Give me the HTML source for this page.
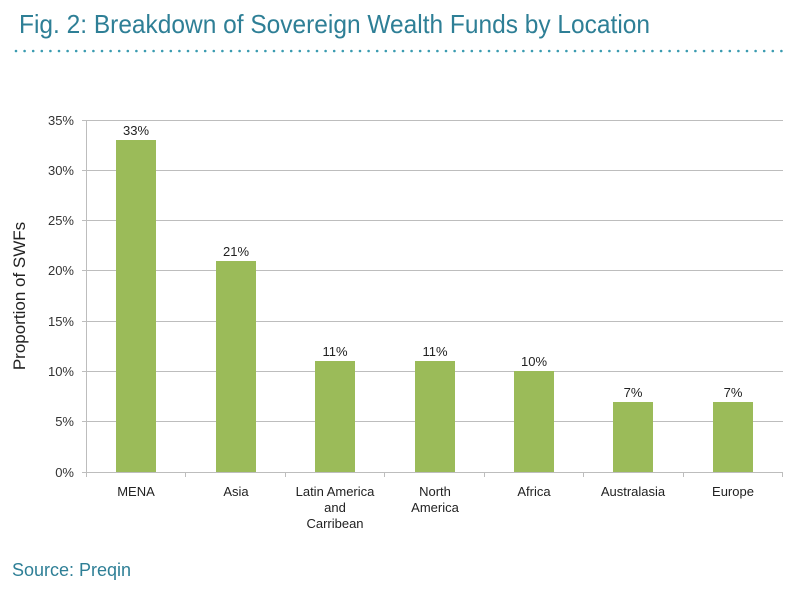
<!DOCTYPE html>
<html><head><style>
body{margin:0;width:800px;height:586px;background:#fff;overflow:hidden;font-family:"Liberation Sans",sans-serif}
</style></head><body>
<svg width="800" height="586" xmlns="http://www.w3.org/2000/svg" font-family="Liberation Sans, sans-serif">
<text x="19" y="33" font-size="26" fill="#2e7f96" textLength="631" lengthAdjust="spacingAndGlyphs">Fig. 2: Breakdown of Sovereign Wealth Funds by Location</text>
<line x1="16" y1="51" x2="785" y2="51" stroke="#3a9bb0" stroke-width="2.6" stroke-linecap="round" stroke-dasharray="0 8.6"/>
<g stroke="#bdbdbd" stroke-width="1">
<line x1="86" y1="120.5" x2="783" y2="120.5"/>
<line x1="86" y1="170.5" x2="783" y2="170.5"/>
<line x1="86" y1="220.5" x2="783" y2="220.5"/>
<line x1="86" y1="270.5" x2="783" y2="270.5"/>
<line x1="86" y1="321.5" x2="783" y2="321.5"/>
<line x1="86" y1="371.5" x2="783" y2="371.5"/>
<line x1="86" y1="421.5" x2="783" y2="421.5"/>
<line x1="86" y1="472.5" x2="783" y2="472.5"/>
<line x1="86.5" y1="120" x2="86.5" y2="472"/>
<line x1="82" y1="120.5" x2="86" y2="120.5"/><line x1="82" y1="170.5" x2="86" y2="170.5"/><line x1="82" y1="220.5" x2="86" y2="220.5"/><line x1="82" y1="270.5" x2="86" y2="270.5"/><line x1="82" y1="321.5" x2="86" y2="321.5"/><line x1="82" y1="371.5" x2="86" y2="371.5"/><line x1="82" y1="421.5" x2="86" y2="421.5"/><line x1="82" y1="472.5" x2="86" y2="472.5"/>
<line x1="86.5" y1="472" x2="86.5" y2="477"/><line x1="185.5" y1="472" x2="185.5" y2="477"/><line x1="285.5" y1="472" x2="285.5" y2="477"/><line x1="384.5" y1="472" x2="384.5" y2="477"/><line x1="484.5" y1="472" x2="484.5" y2="477"/><line x1="583.5" y1="472" x2="583.5" y2="477"/><line x1="683.5" y1="472" x2="683.5" y2="477"/><line x1="782.5" y1="472" x2="782.5" y2="477"/>
</g>
<g font-size="13" fill="#333" text-anchor="end">
<text x="74" y="125">35%</text><text x="74" y="175">30%</text><text x="74" y="225">25%</text><text x="74" y="275">20%</text><text x="74" y="326">15%</text><text x="74" y="376">10%</text><text x="74" y="426">5%</text><text x="74" y="477">0%</text>
</g>
<text transform="translate(25,296) rotate(-90)" font-size="17" fill="#222" text-anchor="middle">Proportion of SWFs</text>
<g fill="#9bbb59">
<rect x="116" y="140" width="40" height="332"/>
<rect x="216" y="261" width="40" height="211"/>
<rect x="315" y="361" width="40" height="111"/>
<rect x="415" y="361" width="40" height="111"/>
<rect x="514" y="371" width="40" height="101"/>
<rect x="613" y="402" width="40" height="70"/>
<rect x="713" y="402" width="40" height="70"/>
</g>
<g font-size="13" fill="#222" text-anchor="middle">
<text x="136" y="135">33%</text><text x="236" y="256">21%</text><text x="335" y="356">11%</text><text x="435" y="356">11%</text><text x="534" y="366">10%</text><text x="633" y="397">7%</text><text x="733" y="397">7%</text>
<text x="136" y="496">MENA</text><text x="236" y="496">Asia</text>
<text x="335" y="496">Latin America</text><text x="335" y="512">and</text><text x="335" y="528">Carribean</text>
<text x="435" y="496">North</text><text x="435" y="512">America</text>
<text x="534" y="496">Africa</text><text x="633" y="496">Australasia</text><text x="733" y="496">Europe</text>
</g>
<text x="12" y="576" font-size="18" fill="#2e7f96">Source: Preqin</text>
</svg>
</body></html>
